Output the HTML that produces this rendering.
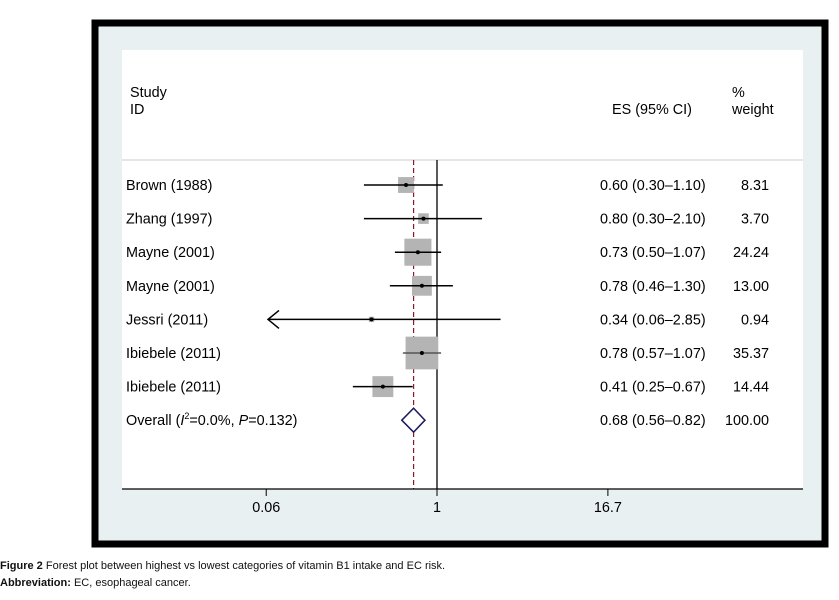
<!DOCTYPE html>
<html><head><meta charset="utf-8"><style>
body{margin:0;width:839px;height:600px;background:#fff;position:relative;overflow:hidden;font-family:"Liberation Sans",Arial,sans-serif}
.cap{position:absolute;left:0;font-size:11px;color:#111}
</style></head><body>
<svg width="839" height="600" style="position:absolute;left:0;top:0" font-family="Liberation Sans, Arial, sans-serif">
<rect x="95" y="23" width="730" height="521" fill="#e9f0f2" stroke="#000" stroke-width="7"/>
<rect x="122" y="50" width="681" height="439" fill="#fff"/>
<line x1="122" y1="160" x2="803" y2="160" stroke="#ccc" stroke-width="1"/>
<text x="130" y="97" font-size="14.4">Study</text>
<text x="130" y="114" font-size="14.4">ID</text>
<text x="612" y="114" font-size="14.4">ES (95% CI)</text>
<text x="732" y="97" font-size="14.4">%</text>
<text x="732" y="114" font-size="14.4">weight</text>
<g id="marks"></g>
<line x1="122" y1="489" x2="803" y2="489" stroke="#000" stroke-width="1.2"/>
<g id="axis"></g>
</svg>
<div class="cap" style="top:560px"><b>Figure 2</b> Forest plot between highest vs lowest categories of vitamin B1 intake and EC risk.</div>
<div class="cap" style="top:577px"><b>Abbreviation:</b> EC, esophageal cancer.</div>
<script>
const studies=["Brown (1988)","Zhang (1997)","Mayne (2001)","Mayne (2001)","Jessri (2011)","Ibiebele (2011)","Ibiebele (2011)"];
const es=[0.60,0.80,0.73,0.78,0.34,0.78,0.41];
const lo=[0.30,0.30,0.50,0.46,0.06,0.57,0.25];
const hi=[1.10,2.10,1.07,1.30,2.85,1.07,0.67];
const wt=[8.31,3.70,24.24,13.00,0.94,35.37,14.44];
const overall=[0.68,0.56,0.82,100.00];
const ticks=[0.06,1,16.7];
const NS="http://www.w3.org/2000/svg";
const x=v=>437+60.7*Math.log(v);
const rowY=i=>185+33.6*i;
const g=document.getElementById('marks');
function el(t,a,p){const e=document.createElementNS(NS,t);for(const k in a)e.setAttribute(k,a[k]);(p||g).appendChild(e);return e;}
const yTop=160,yBot=489;
const FS=14.4;
const nl=el('line',{x1:437,y1:yTop,x2:437,y2:yBot,stroke:'#000','stroke-width':1.3});


const ov=el('line',{x1:x(overall[0]),y1:yTop,x2:x(overall[0]),y2:yBot,stroke:'#8b1a2a','stroke-width':1.2,'stroke-dasharray':'5,3'});


const f=v=>v.toFixed(2);
studies.forEach((s,i)=>{
  const y=rowY(i);
  const sd=5.5*Math.sqrt(wt[i]);
  const b=el('rect',{x:x(es[i])-sd/2,y:y-sd/2,width:sd,height:sd,fill:'#b4b4b4'});
  
  
  const x1=Math.max(x(lo[i]),268);
  const ci=el('line',{x1:x1,y1:y,x2:x(hi[i]),y2:y,stroke:i==5?'#555':'#000','stroke-width':1.5});
  
  
  if(x(lo[i])<=268){const a=el('path',{d:`M${x1+11} ${y-9} L${x1} ${y} L${x1+11} ${y+9}`,fill:'none',stroke:'#000','stroke-width':1.5});
    
    }
  const d=el('circle',{cx:x(es[i]),cy:y,r:2,fill:'#000'});
  
  
  const t=el('text',{x:126,y:y+5,'font-size':FS});t.textContent=s;
  
  
  const e=el('text',{x:600,y:y+5,'font-size':FS});e.textContent=`${f(es[i])} (${f(lo[i])}–${f(hi[i])})`;
  
  
  const w=el('text',{x:769,y:y+5,'font-size':FS,'text-anchor':'end'});w.textContent=f(wt[i]);
  
  
});
const oy=rowY(7);
const dm=el('path',{d:`M${x(overall[1])} ${oy} L${x(overall[0])} ${oy-12} L${x(overall[2])} ${oy} L${x(overall[0])} ${oy+12} Z`,fill:'#fff',stroke:'#1a1a5e','stroke-width':1.5});


const ot=el('text',{x:126,y:oy+5,'font-size':FS});ot.innerHTML='Overall (<tspan font-style="italic">I</tspan><tspan font-size="9" dy="-6">2</tspan><tspan dy="6">=0.0%, </tspan><tspan font-style="italic">P</tspan>=0.132)';


const oe=el('text',{x:600,y:oy+5,'font-size':FS});oe.textContent=`${f(overall[0])} (${f(overall[1])}–${f(overall[2])})`;


const ow=el('text',{x:769,y:oy+5,'font-size':FS,'text-anchor':'end'});ow.textContent=f(overall[3]);


const ax=document.getElementById('axis');
ticks.forEach(v=>{
  const tk=el('line',{x1:x(v),y1:489,x2:x(v),y2:496,stroke:'#000','stroke-width':1},ax);
  
  
  const tl=el('text',{x:x(v),y:512,'font-size':FS,'text-anchor':'middle'},ax);tl.textContent=String(v);
  
  
});
</script>
</body></html>
